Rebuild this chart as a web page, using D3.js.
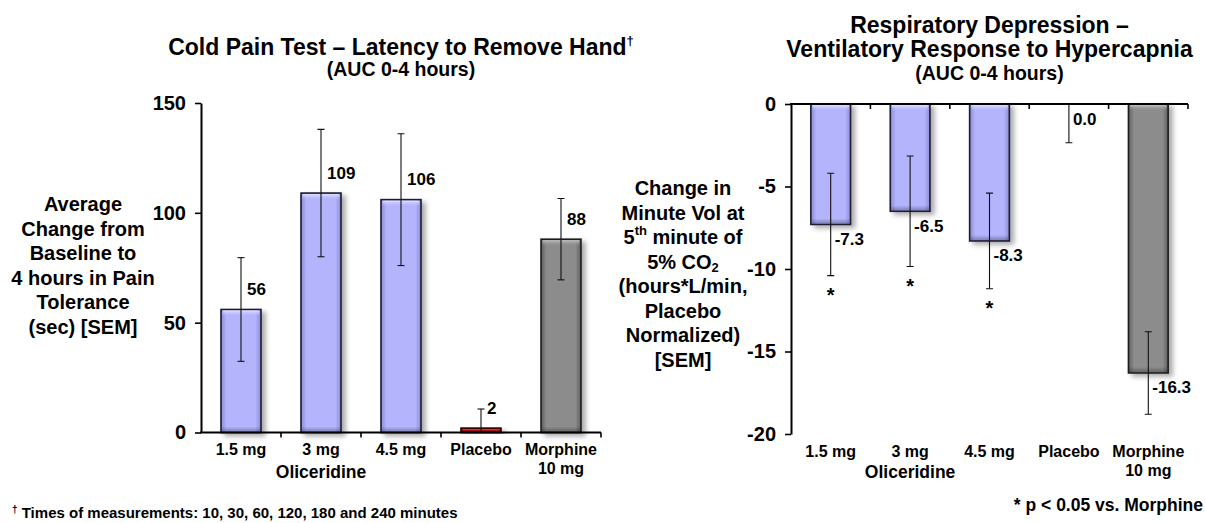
<!DOCTYPE html>
<html><head><meta charset="utf-8">
<script src="https://cdn.jsdelivr.net/npm/d3@7"></script>
<style>
html,body{margin:0;padding:0;background:#fff;}
svg{display:block;font-family:"Liberation Sans",Arial,sans-serif;font-weight:bold;}
</style></head><body>
<svg id="chart" width="1205" height="523"></svg>
<script>
// ---------- data ----------
const categories = ["1.5 mg", "3 mg", "4.5 mg", "Placebo", "Morphine 10 mg"];
const categoryLabelLines = [["1.5 mg"], ["3 mg"], ["4.5 mg"], ["Placebo"], ["Morphine", "10 mg"]];
const groupLabel = "Oliceridine";
const groupCategory = "3 mg";
const barKinds = ["oli", "oli", "oli", "placebo", "morphine"];

const coldPainValues = [56, 109, 106, 2, 88];
const coldPainSEM = [23.6, 29, 30, 8.7, 18.5];
const coldPainTicks = [0, 50, 100, 150];

const respValues = [-7.3, -6.5, -8.3, 0.0, -16.3];
const respSEM = [3.1, 3.35, 2.9, 2.35, 2.5];
const respTicks = [0, -5, -10, -15, -20];
const respSignificant = [true, true, true, false, false];

const coldTitle = "Cold Pain Test \u2013 Latency to Remove Hand";
const respTitleLines = ["Respiratory Depression \u2013", "Ventilatory Response to Hypercapnia"];
const subTitle = "(AUC 0-4 hours)";
const coldYTitle = ["Average", "Change from", "Baseline to", "4 hours in Pain", "Tolerance", "(sec) [SEM]"];
const footLeft = " Times of measurements: 10, 30, 60, 120, 180 and 240 minutes";
const footRight = "* p < 0.05 vs. Morphine";

// ---------- styles ----------
const kindStyle = {
  oli:      {edge: "#8a8ad6", mid: "#b4b4fd", hi: "#e4e4ff", stroke: "#1c1c30"},
  placebo:  {edge: "#9a0000", mid: "#c80000", hi: "#ff7070", stroke: "#2a0000"},
  morphine: {edge: "#5e5e5e", mid: "#8c8c8c", hi: "#c4c4c4", stroke: "#1e1e1e"}
};

const svg = d3.select("#chart");
const defs = svg.append("defs");
const f = defs.append("filter").attr("id", "shadow")
  .attr("x", "-30%").attr("y", "-10%").attr("width", "180%").attr("height", "130%");
f.append("feDropShadow").attr("dx", 4).attr("dy", 3).attr("stdDeviation", 2.5)
  .attr("flood-color", "#000").attr("flood-opacity", 0.33);

Object.entries(kindStyle).forEach(([k, s]) => {
  const lg = defs.append("linearGradient").attr("id", "g-" + k).attr("x1", 0).attr("x2", 1).attr("y1", 0).attr("y2", 0);
  [[0, s.edge], [0.14, s.mid], [0.86, s.mid], [1, s.edge]].forEach(([o, c]) =>
    lg.append("stop").attr("offset", o).attr("stop-color", c));
  const hg = defs.append("linearGradient").attr("id", "h-" + k).attr("x1", 0).attr("x2", 0).attr("y1", 0).attr("y2", 1);
  hg.append("stop").attr("offset", 0).attr("stop-color", s.hi).attr("stop-opacity", 0.95);
  hg.append("stop").attr("offset", 1).attr("stop-color", s.mid).attr("stop-opacity", 0);
});
const bg = defs.append("linearGradient").attr("id", "bot").attr("x1", 0).attr("x2", 0).attr("y1", 0).attr("y2", 1);
bg.append("stop").attr("offset", 0).attr("stop-color", "#000").attr("stop-opacity", 0);
bg.append("stop").attr("offset", 1).attr("stop-color", "#000").attr("stop-opacity", 0.28);

function drawPanel(o) {
  const g = svg.append("g");
  const x = d3.scaleBand().domain(categories).range([o.x0, o.x1]).padding(0);
  const y = d3.scaleLinear().domain(o.yDomain).range(o.yRange);
  const bw = x.bandwidth(), barW = bw * 0.5;
  const y0 = y(0);
  const data = categories.map((c, i) => ({c, v: o.values[i], s: o.sems[i], kind: barKinds[i], sig: o.sig ? o.sig[i] : false}));
  const cx = d => x(d.c) + bw / 2;

  // bars
  const bars = g.append("g").selectAll("g").data(data.filter(d => d.v !== 0)).join("g");
  bars.append("rect")
    .attr("x", d => cx(d) - barW / 2).attr("width", barW)
    .attr("y", d => Math.min(y0, y(d.v))).attr("height", d => Math.abs(y(d.v) - y0))
    .attr("fill", d => `url(#g-${d.kind})`).attr("stroke", d => kindStyle[d.kind].stroke)
    .attr("stroke-width", 1.6).attr("filter", "url(#shadow)");
  bars.append("rect")
    .attr("x", d => cx(d) - barW / 2 + 1.5).attr("width", barW - 3)
    .attr("y", d => Math.min(y0, y(d.v)) + 1).attr("height", d => Math.min(6, Math.abs(y(d.v) - y0) - 2))
    .attr("fill", d => `url(#h-${d.kind})`);
  bars.append("rect")
    .attr("x", d => cx(d) - barW / 2 + 1).attr("width", barW - 2)
    .attr("y", d => Math.max(y0, y(d.v)) - Math.min(5, Math.abs(y(d.v) - y0) - 1) - 1)
    .attr("height", d => Math.min(5, Math.abs(y(d.v) - y0) - 1))
    .attr("fill", "url(#bot)");

  // error bars (clipped to plot area)
  const clipId = "clip-" + o.id;
  const yr = o.yRange;
  defs.append("clipPath").attr("id", clipId).append("rect")
    .attr("x", o.x0).attr("width", o.x1 - o.x0)
    .attr("y", Math.min(...yr) - 0.5).attr("height", Math.abs(yr[1] - yr[0]) + 1);
  const eg = g.append("g").attr("clip-path", `url(#${clipId})`).attr("stroke", "#111").attr("stroke-width", 1.1);
  data.forEach(d => {
    const yt = y(d.v + d.s), yb = y(d.v - d.s), X = cx(d);
    eg.append("line").attr("x1", X).attr("x2", X).attr("y1", yt).attr("y2", yb);
    eg.append("line").attr("x1", X - 3.5).attr("x2", X + 3.5).attr("y1", yt).attr("y2", yt);
    eg.append("line").attr("x1", X - 3.5).attr("x2", X + 3.5).attr("y1", yb).attr("y2", yb);
  });

  // y axis
  const ya = g.append("g").attr("transform", `translate(${o.x0},0)`)
    .call(d3.axisLeft(y).tickValues(o.ticks).tickSize(6).tickSizeOuter(0).tickPadding(9).tickFormat(d => String(d)));
  ya.select(".domain").attr("stroke", "#000").attr("stroke-width", 2);
  ya.selectAll(".tick line").attr("stroke", "#000").attr("stroke-width", 1.6);
  ya.selectAll(".tick text").attr("fill", "#000").style("font-size", "20px").style("font-weight", "bold")
    .style("font-family", '"Liberation Sans", Arial, sans-serif');

  // x axis line + boundary ticks
  g.append("line").attr("x1", o.x0 - 1).attr("x2", o.x1).attr("y1", y0).attr("y2", y0)
    .attr("stroke", "#000").attr("stroke-width", 2);
  const bounds = categories.map(c => x(c) + bw);
  g.selectAll(".bt").data(bounds).join("line").attr("class", "bt")
    .attr("x1", d => d).attr("x2", d => d).attr("y1", y0).attr("y2", y0 + 5)
    .attr("stroke", "#000").attr("stroke-width", 1.6);

  // category labels
  categories.forEach((c, i) => {
    const t = g.append("text").attr("x", x(c) + bw / 2).attr("y", o.labelY)
      .attr("text-anchor", "middle").attr("dominant-baseline", "central").style("font-size", "16px");
    categoryLabelLines[i].forEach((ln, j) =>
      t.append("tspan").attr("x", x(c) + bw / 2).attr("dy", j === 0 ? 0 : 19).text(ln));
  });
  g.append("text").attr("x", x(groupCategory) + bw / 2).attr("y", o.groupY)
    .attr("text-anchor", "middle").attr("dominant-baseline", "central").style("font-size", "17.5px").text(groupLabel);

  // value labels
  g.selectAll(".vl").data(data).join("text").attr("class", "vl")
    .attr("x", d => cx(d) + o.labelDx)
    .attr("y", d => y(d.v) + o.labelDy)
    .attr("dominant-baseline", "central").style("font-size", "17px")
    .text(d => o.fmt(d.v));

  // significance asterisks
  g.selectAll(".sg").data(data.filter(d => d.sig)).join("text").attr("class", "sg")
    .attr("x", d => cx(d)).attr("y", d => y(d.v - d.s) + 15 + 0.57 * 20)
    .attr("text-anchor", "middle").style("font-size", "20px").text("*");

  return {x, y};
}

drawPanel({id: "cold", x0: 201, x1: 601, yDomain: [0, 150], yRange: [432.5, 103],
  values: coldPainValues, sems: coldPainSEM, ticks: coldPainTicks,
  fmt: v => d3.format("d")(v), labelDx: 6, labelDy: -20, labelY: 449, groupY: 472});
drawPanel({id: "resp", x0: 791, x1: 1188, yDomain: [0, -20], yRange: [104, 434],
  values: respValues, sems: respSEM, ticks: respTicks, sig: respSignificant,
  fmt: v => v.toFixed(1), labelDx: 4, labelDy: 15, labelY: 451, groupY: 472});

// titles
const tl = svg.append("text").attr("x", 401).attr("y", 47).attr("text-anchor", "middle")
  .attr("dominant-baseline", "central").style("font-size", "23px");
tl.append("tspan").text(coldTitle);
tl.append("tspan").attr("dy", -7).style("font-size", "13px").text("\u2020");
svg.append("text").attr("x", 401).attr("y", 69).attr("text-anchor", "middle")
  .attr("dominant-baseline", "central").style("font-size", "19.5px").text(subTitle);

respTitleLines.forEach((ln, i) =>
  svg.append("text").attr("x", 989.5).attr("y", 25 + i * 24).attr("text-anchor", "middle")
    .attr("dominant-baseline", "central").style("font-size", "23px").text(ln));
svg.append("text").attr("x", 989.5).attr("y", 73).attr("text-anchor", "middle")
  .attr("dominant-baseline", "central").style("font-size", "19.5px").text(subTitle);

// y axis titles
coldYTitle.forEach((ln, i) =>
  svg.append("text").attr("x", 83).attr("y", 204 + i * 24.6).attr("text-anchor", "middle")
    .attr("dominant-baseline", "central").style("font-size", "20px").text(ln));

const respLines = [
  [["Change in", ""]],
  [["Minute Vol at", ""]],
  [["5", ""], ["th", "sup"], [" minute of", ""]],
  [["5% CO", ""], ["2", "sub"]],
  [["(hours*L/min,", ""]],
  [["Placebo", ""]],
  [["Normalized)", ""]],
  [["[SEM]", ""]]
];
respLines.forEach((parts, i) => {
  const t = svg.append("text").attr("x", 683).attr("y", 188 + i * 24.5).attr("text-anchor", "middle")
    .attr("dominant-baseline", "central").style("font-size", "20px");
  let shift = 0;
  parts.forEach(([s, k]) => {
    const ts = t.append("tspan").text(s);
    const target = k === "sup" ? -7 : k === "sub" ? 5 : 0;
    if (target !== shift) { ts.attr("dy", target - shift); shift = target; }
    if (k) ts.style("font-size", "13px");
  });
});

// footnotes
const fl = svg.append("text").attr("x", 12).attr("y", 518).style("font-size", "15px");
fl.append("tspan").attr("dy", -5).style("font-size", "10px").text("\u2020");
fl.append("tspan").attr("dy", 5).text(footLeft);
svg.append("text").attr("x", 1203).attr("y", 511).attr("text-anchor", "end")
  .style("font-size", "17.5px").text(footRight);
</script>
</body></html>
